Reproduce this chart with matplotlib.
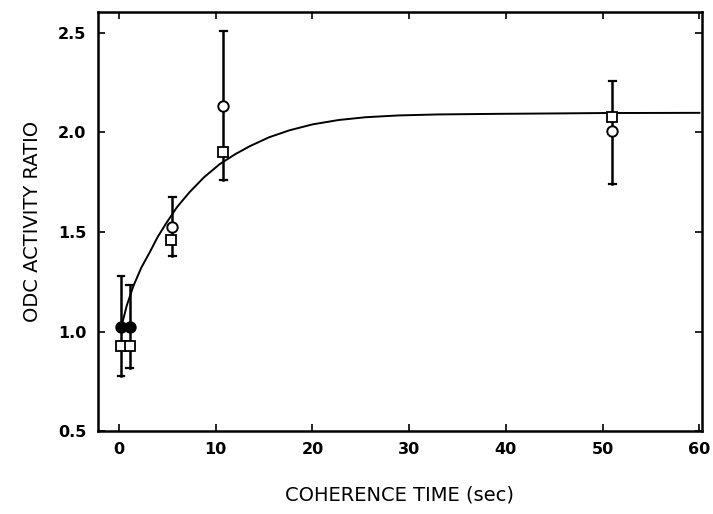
import numpy as np
import matplotlib
matplotlib.use("Agg")
from matplotlib import pyplot as plt

# data
circle_x = [0.2, 1.1, 5.5, 10.8, 51.0]
circle_y = [1.025, 1.025, 1.525, 2.13, 2.005]
circle_filled = [True, True, False, False, False]

square_x = [0.2, 1.1, 5.4, 10.8, 51.0]
square_y = [0.93, 0.93, 1.46, 1.90, 2.075]

# error bars (x, low, high)
err_x = [0.2, 1.1, 5.5, 10.8, 51.0]
err_low = [0.775, 0.815, 1.38, 1.76, 1.74]
err_high = [1.28, 1.235, 1.675, 2.51, 2.26]

# fitted curve, read as points
curve_x = [0.28, 0.8, 1.5, 2.3, 3.2, 4.0, 4.9, 6.0, 7.3, 8.8, 10.4, 12.0, 13.5,
           15.5, 17.6, 20.0, 22.7, 25.5, 28.9, 33.0, 39.2, 45.0, 50.0, 60.0]
curve_y = [1.03, 1.13, 1.23, 1.32, 1.40, 1.475, 1.545, 1.625, 1.70, 1.775, 1.84, 1.89, 1.93,
           1.975, 2.01, 2.04, 2.062, 2.076, 2.085, 2.09, 2.093, 2.095, 2.097, 2.098]

fig = plt.figure(figsize=(7.13, 5.14), dpi=100)
ax = fig.add_axes([0.137, 0.161, 0.848, 0.816])

ax.plot(curve_x, curve_y, color="black", linewidth=1.4)

for x, lo, hi in zip(err_x, err_low, err_high):
    ax.plot([x, x], [lo, hi], color="black", linewidth=1.8)
    ax.plot([x - 0.35, x + 0.35], [lo, lo], color="black", linewidth=1.6)
    ax.plot([x - 0.35, x + 0.35], [hi, hi], color="black", linewidth=1.6)

for x, y, f in zip(circle_x, circle_y, circle_filled):
    ax.plot(x, y, marker="o", markersize=7.5, markeredgewidth=1.4,
            markeredgecolor="black", markerfacecolor="black" if f else "white",
            linestyle="none")

ax.plot(square_x, square_y, marker="s", markersize=6.5, markeredgewidth=1.3,
        markeredgecolor="black", markerfacecolor="white", linestyle="none")

ax.set_xlim(-2.2, 60.3)
ax.set_ylim(0.5, 2.605)
ax.set_xticks([0, 10, 20, 30, 40, 50, 60])
ax.set_yticks([0.5, 1.0, 1.5, 2.0, 2.5])
ax.set_yticklabels(["0.5", "1.0", "1.5", "2.0", "2.5"])

ax.tick_params(direction="in", length=5, width=1.2, top=True, right=True,
               labelsize=11.5, pad=8)
for lab in ax.get_xticklabels() + ax.get_yticklabels():
    lab.set_fontweight("bold")
for s in ax.spines.values():
    s.set_linewidth(1.8)

ax.set_xlabel("COHERENCE TIME (sec)", fontsize=14, labelpad=20)
ax.set_ylabel("ODC ACTIVITY RATIO", fontsize=14, labelpad=12)

fig.savefig("out.png", dpi=100)
